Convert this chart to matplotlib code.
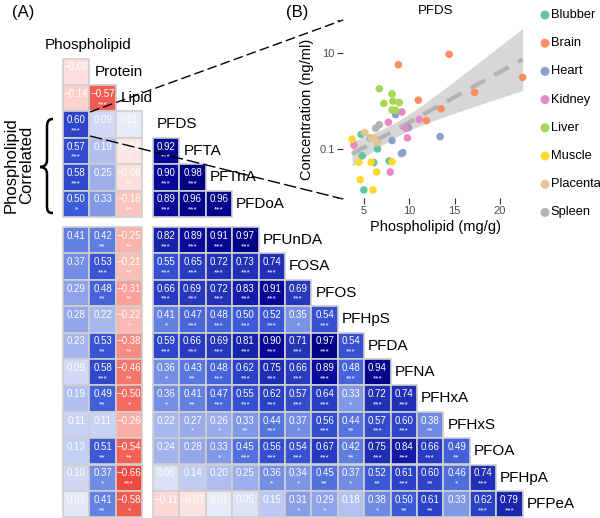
import numpy as np
import matplotlib
matplotlib.use("Agg")
import matplotlib.pyplot as plt
from matplotlib.patches import Rectangle, PathPatch
from matplotlib.path import Path
from matplotlib.colors import LinearSegmentedColormap

plt.rcParams['font.family'] = ['Liberation Sans', 'DejaVu Sans']

# ---------------- data ----------------
covariates = ["Phospholipid", "Protein", "Lipid"]
pfas = ["PFDS", "PFTA", "PFTriA", "PFDoA", "PFUnDA", "FOSA", "PFOS", "PFHpS",
        "PFDA", "PFNA", "PFHxA", "PFHxS", "PFOA", "PFHpA", "PFPeA"]

# covariate-covariate correlations (lower triangle)
cov_r = [[-0.08], [-0.14, -0.57]]
cov_sig = [[""], ["", "***"]]

# PFAS vs covariates (Phospholipid, Protein, Lipid)
pfas_cov_r = [
    [0.60, 0.09, 0.01],
    [0.57, 0.19, -0.06],
    [0.58, 0.25, -0.08],
    [0.50, 0.33, -0.18],
    [0.41, 0.42, -0.25],
    [0.37, 0.53, -0.21],
    [0.29, 0.48, -0.31],
    [0.28, 0.22, -0.22],
    [0.23, 0.53, -0.38],
    [0.09, 0.58, -0.46],
    [0.19, 0.49, -0.50],
    [0.11, 0.11, -0.26],
    [0.13, 0.51, -0.54],
    [0.10, 0.37, -0.66],
    [0.03, 0.41, -0.58],
]
pfas_cov_sig = [
    ["***", "", ""],
    ["***", "", "*"],
    ["***", "", "**"],
    ["*", "", "**"],
    ["", "**", "**"],
    ["", "***", "**"],
    ["", "**", "**"],
    ["", "", "*"],
    ["", "**", "**"],
    ["", "***", "**"],
    ["", "**", "*"],
    ["", "", ""],
    ["", "**", "**"],
    ["", "*", "***"],
    ["", "**", "*"],
]

# PFAS-PFAS correlations (lower triangle, rows PFTA..PFPeA)
pfas_r = [
    [0.92],
    [0.90, 0.98],
    [0.89, 0.96, 0.96],
    [0.82, 0.89, 0.91, 0.97],
    [0.55, 0.65, 0.72, 0.73, 0.74],
    [0.66, 0.69, 0.72, 0.83, 0.91, 0.69],
    [0.41, 0.47, 0.48, 0.50, 0.52, 0.35, 0.54],
    [0.59, 0.66, 0.69, 0.81, 0.90, 0.71, 0.97, 0.54],
    [0.36, 0.43, 0.48, 0.62, 0.75, 0.66, 0.89, 0.48, 0.94],
    [0.36, 0.41, 0.47, 0.55, 0.62, 0.57, 0.64, 0.33, 0.72, 0.74],
    [0.22, 0.27, 0.26, 0.33, 0.44, 0.37, 0.56, 0.44, 0.57, 0.60, 0.38],
    [0.24, 0.28, 0.33, 0.45, 0.56, 0.54, 0.67, 0.42, 0.75, 0.84, 0.66, 0.49],
    [0.06, 0.14, 0.20, 0.25, 0.36, 0.34, 0.45, 0.37, 0.52, 0.61, 0.60, 0.46, 0.74],
    [-0.11, -0.07, 0.01, 0.05, 0.15, 0.31, 0.29, 0.18, 0.38, 0.50, 0.61, 0.33, 0.62, 0.79],
]
pfas_sig = [
    ["***"],
    ["***", "***"],
    ["***", "***", "***"],
    ["***", "***", "***", "***"],
    ["***", "***", "***", "***", "***"],
    ["***", "***", "***", "***", "***", "***"],
    ["*", "***", "***", "***", "***", "*", "***"],
    ["***", "***", "***", "***", "***", "***", "***", "***"],
    ["*", "**", "***", "***", "***", "***", "***", "***", "***"],
    ["*", "**", "***", "***", "***", "***", "***", "*", "***", "***"],
    ["", "*", "*", "**", "***", "*", "***", "**", "***", "***", "**"],
    ["", "", "*", "***", "***", "***", "***", "**", "***", "***", "***", "**"],
    ["", "", "", "", "*", "*", "**", "*", "**", "***", "**", "*", "***"],
    ["", "", "", "", "", "*", "*", "", "*", "**", "**", "", "***", "***"],
]

# Panel B: PFDS concentration vs phospholipid by tissue
tissues = ["Blubber", "Brain", "Heart", "Kidney", "Liver", "Muscle", "Placenta", "Spleen"]
tissue_colors = ["#66c2a5", "#fc8d62", "#8da0cb", "#e78ac3", "#a6d854", "#ffd92f", "#e5c494", "#b3b3b3"]
phos = {
    "Blubber": [4.7, 4.8, 6.1, 6.5, 5.0, 5.7, 7.8],
    "Brain": [8.8, 14.4, 11.0, 13.5, 17.2, 22.5, 11.9],
    "Heart": [8.5, 9.9, 8.1, 9.15, 9.3, 13.4],
    "Kidney": [3.9, 7.7, 9.2, 9.6, 9.8, 11.1, 7.9],
    "Liver": [6.7, 8.1, 7.2, 8.2, 8.9, 8.1, 8.5],
    "Muscle": [3.7, 4.45, 4.6, 5.8, 6.0, 6.4, 8.1],
    "Placenta": [5.1, 5.8, 6.2, 6.5],
    "Spleen": [6.3, 6.7],
}
conc = {
    "Blubber": [0.20, 0.072, 0.052, 0.10, 0.014, 0.17, 0.056],
    "Brain": [5.7, 9.4, 1.04, 0.69, 1.5, 3.1, 0.39],
    "Heart": [0.52, 0.28, 0.15, 0.080, 0.084, 0.18],
    "Kidney": [0.12, 0.36, 0.59, 0.27, 0.17, 0.41, 0.033],
    "Liver": [1.8, 1.4, 0.89, 0.99, 0.93, 0.65, 0.64],
    "Muscle": [0.16, 0.053, 0.023, 0.053, 0.014, 0.033, 0.054],
    "Placenta": [0.22, 0.17, 0.17, 0.135],
    "Spleen": [0.27, 0.32],
}

# ---------------- style ----------------
cmap = LinearSegmentedColormap.from_list("corr", [
    (0.0, "#e31a1c"), (0.17, "#f04a40"), (0.25, "#f46a60"), (0.375, "#fab2aa"),
    (0.475, "#fde9e7"), (0.5, "#eceffa"), (0.515, "#e3e7f8"), (0.61, "#a9b8ee"),
    (0.705, "#6482e0"), (0.75, "#3f5cd8"), (0.80, "#2d44c8"), (0.86, "#2333b8"),
    (0.91, "#1622a8"), (0.95, "#08089a"), (1.0, "#000080")])

def rcol(v):
    return cmap((v + 1) / 2)

W, H = 600, 518
fig = plt.figure(figsize=(W / 100, H / 100), dpi=100)
ax = fig.add_axes([0, 0, 1, 1])
ax.set_xlim(0, W)
ax.set_ylim(H, 0)
ax.axis("off")

CELL = 26.4
LX0 = 63.0
RX0 = 153.0
Y0 = 58.5
GAP = 10.0
LABFS = 11

def row_top(k):
    return Y0 + k * CELL + (GAP if k >= 6 else 0)

def draw_cell(x, y, v, sig):
    ax.add_patch(Rectangle((x, y), CELL, CELL, facecolor=rcol(v),
                           edgecolor="#cfcfcf", lw=1.2, zorder=2))
    ax.text(x + CELL / 2, y + CELL * 0.34, f"{v:.2f}".replace("-", "\u2212"),
            ha="center", va="center", fontsize=7, color="white", zorder=3)
    if sig:
        ax.text(x + CELL / 2, y + CELL * 0.74, sig, ha="center", va="center",
                fontsize=6, color="white", zorder=3)

# covariate block
for i, (vals, sigs) in enumerate(zip(cov_r, cov_sig)):
    for j, (v, s) in enumerate(zip(vals, sigs)):
        draw_cell(LX0 + j * CELL, row_top(i), v, s)
for i, (vals, sigs) in enumerate(zip(pfas_cov_r, pfas_cov_sig)):
    for j, (v, s) in enumerate(zip(vals, sigs)):
        draw_cell(LX0 + j * CELL, row_top(i + 2), v, s)

# PFAS block
for i, (vals, sigs) in enumerate(zip(pfas_r, pfas_sig)):
    for j, (v, s) in enumerate(zip(vals, sigs)):
        draw_cell(RX0 + j * CELL, row_top(i + 3), v, s)

# labels
ax.text(LX0 + 25, Y0 - 13, covariates[0], ha="center", va="center", fontsize=LABFS)
for k in (1, 2):
    ax.text(LX0 + k * CELL + 5, row_top(k - 1) + CELL / 2, covariates[k],
            ha="left", va="center", fontsize=LABFS, zorder=4)
for k, name in enumerate(pfas):
    ax.text(RX0 + k * CELL + 4, row_top(k + 2) + CELL / 2, name,
            ha="left", va="center", fontsize=LABFS, zorder=4)

ax.text(12, 12, "(A)", ha="left", va="center", fontsize=12)
ax.text(286, 12, "(B)", ha="left", va="center", fontsize=12)

# brace + rotated label
verts = [(53, 119), (48, 119), (47, 122), (47, 128), (47, 160),
         (47, 165), (44, 167), (40, 167),
         (44, 167), (47, 169), (47, 174), (47, 206),
         (47, 211), (48, 213), (53, 213)]
codes = [Path.MOVETO, Path.CURVE4, Path.CURVE4, Path.CURVE4, Path.LINETO,
         Path.CURVE4, Path.CURVE4, Path.CURVE4,
         Path.CURVE4, Path.CURVE4, Path.CURVE4, Path.LINETO,
         Path.CURVE4, Path.CURVE4, Path.CURVE4]
ax.add_patch(PathPatch(Path(verts, codes), facecolor="none", edgecolor="black", lw=1.8))
ax.text(19, 165, "Phospholipid\nCorrelated", rotation=90, ha="center", va="center",
        fontsize=12, linespacing=1.1)

# connector lines
ax.plot([90, 343], [112, 20], color="black", lw=1.0, ls=(0, (7, 3)), zorder=5)
ax.plot([90, 343], [136, 199], color="black", lw=1.0, ls=(0, (9, 3)), zorder=5)

# ---------------- panel B ----------------
bx = fig.add_axes([343 / W, 1 - 198 / H, (529 - 343) / W, (198 - 20) / H])
for t, c in zip(tissues, tissue_colors):
    bx.scatter(phos[t], conc[t], s=30, color=c, edgecolor="none", zorder=3, label=t)

xa = np.concatenate([phos[t] for t in tissues])
ya = np.log10(np.concatenate([conc[t] for t in tissues]))
b, a = np.polyfit(xa, ya, 1)
n = len(xa)
resid = ya - (a + b * xa)
s = np.sqrt(np.sum(resid ** 2) / (n - 2))
xs = np.linspace(xa.min(), xa.max(), 100)
se = s * np.sqrt(1 / n + (xs - xa.mean()) ** 2 / np.sum((xa - xa.mean()) ** 2))
yfit = a + b * xs
bx.fill_between(xs, 10 ** (yfit - 2.01 * se), 10 ** (yfit + 2.01 * se),
                color="#bdbdbd", alpha=0.6, lw=0, zorder=1)
bx.plot(xs, 10 ** yfit, color="#b3b3b3", lw=3, ls=(0, (4, 2.5)), zorder=2)

bx.set_yscale("log")
ylo, yhi = 0.0095, 48.7
bx.set_xlim(2.7, 23.2)
bx.set_ylim(ylo, yhi)
for sp in bx.spines.values():
    sp.set_visible(False)
bx.set_xticks([5, 10, 15, 20])
bx.set_yticks([ylo * 1.02, 0.1, 10, yhi * 0.98])
bx.set_yticklabels(["", "0.1", "10", ""])
bx.yaxis.set_minor_locator(matplotlib.ticker.NullLocator())
bx.tick_params(axis="both", labelsize=8, labelcolor="#4d4d4d", color="#333333",
               length=4, width=0.8, pad=2)
bx.set_title("PFDS", fontsize=9.5, pad=4)
bx.set_xlabel("Phospholipid (mg/g)", fontsize=10.5, labelpad=3)
bx.set_ylabel("Concentration (ng/ml)", fontsize=10.5, labelpad=4)

# legend drawn manually to the right of panel B
for k, (t, c) in enumerate(zip(tissues, tissue_colors)):
    yy = 15 + k * 28.2
    ax.scatter([545], [yy], s=42, color=c, edgecolor="none", zorder=6)
    ax.text(550.5, yy, t, ha="left", va="center", fontsize=9.3, zorder=6)

fig.savefig("out.png", dpi=100)
